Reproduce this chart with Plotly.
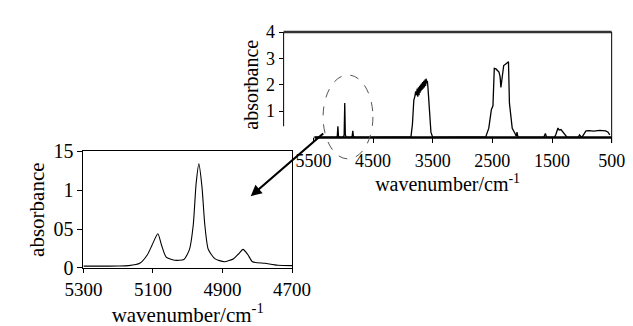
import plotly.graph_objects as go

# ---- Top spectrum (full range) ----
top_wn = [5500, 5200, 5120, 5100, 5090, 5080, 5060, 5000, 4985, 4975, 4965, 4950, 4870, 4850, 4840, 4830,
          4810, 4600, 3900, 3865, 3840, 3817, 3800, 3786, 3775, 3760, 3750, 3740, 3730, 3720, 3712, 3706, 3698,
          3690, 3680, 3670, 3660, 3650, 3640, 3630, 3620, 3611, 3600, 3590, 3580, 3563, 3548, 3530, 3500,
          3000, 2611, 2560, 2516, 2490, 2468, 2440, 2389, 2370, 2357, 2340, 2310,
          2270, 2230, 2214, 2200, 2167, 2120, 2100, 2087, 2070, 2000, 1640, 1611, 1590, 1460, 1437, 1400, 1380,
          1350, 1320, 1280, 1246, 1100, 1060, 1040, 1000, 944, 930, 880, 800, 700, 600, 560, 532]
top_abs = [0.0, 0.0, 0.0, 0.05, 0.42, 0.05, 0.0, 0.0, 0.1, 1.31, 0.1, 0.0, 0.0, 0.05, 0.25, 0.05,
           0.0, 0.0, 0.0, 0.02, 0.5, 1.42, 1.55, 1.75, 1.6, 1.85, 1.55, 1.9, 1.6, 1.95, 1.7, 2.0, 1.75,
           2.05, 1.8, 2.1, 1.85, 2.15, 1.9, 2.2, 1.95, 2.23, 2.05, 2.15, 1.9, 1.2, 0.6, 0.2, 0.0,
           0.0, 0.02, 0.35, 1.06, 1.2, 2.62, 2.6, 2.48, 2.3, 1.9, 2.2, 2.73,
           2.8, 2.87, 1.3, 1.0, 0.35, 0.15, 0.05, 0.2, 0.0, 0.0, 0.0, 0.15, 0.0, 0.0, 0.1, 0.36, 0.28,
           0.3, 0.2, 0.1, 0.0, 0.0, 0.0, 0.1, 0.0, 0.2, 0.25, 0.26, 0.24, 0.27, 0.25, 0.2, 0.1]

top_xticks = [5500, 4500, 3500, 2500, 1500, 500]
top_yticks = [1, 2, 3, 4]

# ---- Zoomed inset spectrum ----
zoom_wn = [5300, 5250, 5200, 5170, 5138, 5116, 5103, 5086, 5075, 5062, 5038, 5011, 4995, 4984, 4976, 4968,
           4959, 4951, 4941, 4922, 4895, 4868, 4854, 4841, 4827, 4814, 4778, 4741, 4700]
zoom_abs = [0.024, 0.024, 0.025, 0.03, 0.06, 0.17, 0.29, 0.44, 0.29, 0.14, 0.10, 0.11, 0.24, 0.56, 1.08, 1.34,
            1.04, 0.56, 0.24, 0.12, 0.08, 0.12, 0.18, 0.24, 0.17, 0.08, 0.06, 0.035, 0.03]

zoom_xticks = [5300, 5100, 4900, 4700]
zoom_yticks = [0, 0.5, 1, 1.5]
zoom_ytext = ["0", "05", "1", "15"]

W, H = 633, 326
def px(x):
    return x / W
def py(y):
    return 1 - y / H

FAM = "Liberation Serif, Times New Roman, Times, serif"
def f(size):
    return dict(family=FAM, size=size, color="black")

fig = go.Figure()
fig.add_trace(go.Scatter(x=top_wn, y=top_abs, mode="lines", line=dict(color="black", width=1.3),
                         xaxis="x", yaxis="y", showlegend=False))
fig.add_trace(go.Scatter(x=zoom_wn, y=zoom_abs, mode="lines",
                         line=dict(color="black", width=1.1, shape="spline", smoothing=0.6),
                         xaxis="x2", yaxis="y2", showlegend=False))

fig.update_layout(
    width=W, height=H, margin=dict(l=0, r=0, t=0, b=0),
    paper_bgcolor="white", plot_bgcolor="rgba(0,0,0,0)",
    font=f(18),
    xaxis=dict(domain=[px(273), px(622)], range=[6000, 500], tickvals=top_xticks,
               ticks="outside", ticklen=5, tickcolor="black", showgrid=False, zeroline=False,
               showline=False, ticklabelstandoff=2,
               anchor="y", title=dict(text="wavenumber/cm<sup>-1</sup>", standoff=0, font=f(20)),
               tickfont=f(18)),
    yaxis=dict(domain=[py(127), py(14)], range=[0, 4], tickvals=top_yticks,
               ticks="outside", ticklen=4, tickcolor="black", showgrid=False, zeroline=False,
               showline=False, anchor="x",
               title=dict(text="absorbance", standoff=2, font=f(20)),
               tickfont=f(18)),
    xaxis2=dict(domain=[px(60), px(282)], range=[5300, 4700], tickvals=zoom_xticks,
                ticks="outside", ticklen=4, tickcolor="black", showgrid=False, zeroline=False,
                showline=True, linecolor="black", linewidth=1, mirror=True,
                anchor="y2", title=dict(text="wavenumber/cm<sup>-1</sup>", standoff=0, font=f(21)),
                tickfont=f(19)),
    yaxis2=dict(domain=[py(267), py(142)], range=[0, 1.5], tickvals=zoom_yticks, ticktext=zoom_ytext,
                ticks="outside", ticklen=5, tickcolor="black", showgrid=False, zeroline=False,
                showline=True, linecolor="black", linewidth=1, mirror=True,
                anchor="x2", title=dict(text="absorbance", standoff=3, font=f(21)),
                tickfont=f(20)),
)

# upper chart frame: top border, right border, visible part of left border, thick baseline
fig.add_shape(type="line", xref="paper", yref="paper", x0=px(273), x1=px(622), y0=py(14), y1=py(14),
              line=dict(color="#333333", width=2.5))
fig.add_shape(type="line", xref="paper", yref="paper", x0=px(622), x1=px(622), y0=py(14), y1=py(133),
              line=dict(color="black", width=1))
fig.add_shape(type="line", xref="paper", yref="paper", x0=px(273), x1=px(273), y0=py(14), y1=py(115),
              line=dict(color="black", width=1))
fig.add_shape(type="line", xref="paper", yref="paper", x0=px(306), x1=px(622), y0=py(127), y1=py(127),
              line=dict(color="black", width=2.6))

# dashed ellipse around the region of interest
fig.add_shape(type="circle", xref="paper", yref="paper", x0=px(315), x1=px(368), y0=py(150), y1=py(60),
              line=dict(color="#555555", width=1, dash="dash"))

# arrow pointing to the inset
fig.add_annotation(xref="paper", yref="paper", x=px(238), y=py(190), ax=74, ay=-64,
                   showarrow=True, arrowhead=2, arrowsize=1, arrowwidth=2.2, arrowcolor="black", text="")

fig.write_html("out.html")
